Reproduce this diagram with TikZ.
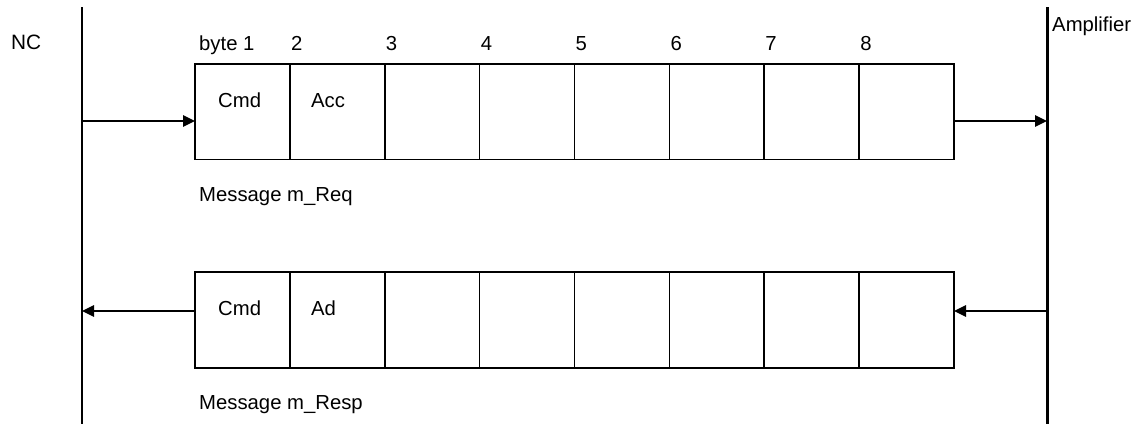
\documentclass[tikz,border=0pt]{standalone}
\usepackage{fontspec}
\setmainfont{Liberation Sans}
\usetikzlibrary{arrows.meta}
\begin{document}
\begin{tikzpicture}[x=1pt,y=-1pt,
  cell/.style={draw, line width=1.6pt, minimum width=94.875pt, minimum height=95.5pt, inner sep=0pt, outer sep=0pt},
  lbl/.style={anchor=base west, inner sep=0pt, font=\fontsize{20.3}{24}\selectfont},
  msg/.style={line width=1.3pt, -{Triangle[length=12pt,width=11.5pt]}},
  life/.style={line width=1.6pt},
  amp/.style={line width=3pt}]
\useasboundingbox (0,0) rectangle (1137,424);
% lifelines
\coordinate (nctop) at (82,7);
\coordinate (ncbot) at (82,424);
\coordinate (amptop) at (1047,7);
\coordinate (ampbot) at (1047,424);
\draw[life] (nctop) -- (ncbot);
\draw[amp] (amptop) -- (ampbot);
\node[lbl, font=\fontsize{20.8}{25}\selectfont] (nc) at (11,49.5) {NC};
\node[lbl] (ampl) at (1052,31) {Amplifier};
% request and response cells
\foreach \i in {1,...,8}{
  \node[cell] (r\i) at ({195+47.4375+(\i-1)*94.875},111.75) {};
  \node[cell] (s\i) at ({195+47.4375+(\i-1)*94.875},320) {};
}
\node[lbl] (b1) at ([xshift=4pt,yshift=13.5pt]r1.north west) {byte 1};
\foreach \i in {2,...,8}{
  \node[lbl] (b\i) at ([xshift=1pt,yshift=13.5pt]r\i.north west) {\i};
}
\node[lbl] (rc1) at ([xshift=23pt,yshift=-43pt]r1.north west) {Cmd};
\node[lbl] (rc2) at ([xshift=21pt,yshift=-43pt]r2.north west) {Acc};
\node[lbl] (sc1) at ([xshift=23pt,yshift=-43pt]s1.north west) {Cmd};
\node[lbl] (sc2) at ([xshift=21pt,yshift=-43pt]s2.north west) {Ad};
\node[lbl] (mreq) at ([xshift=4pt,yshift=-41.5pt]r1.south west) {Message m\_Req};
\node[lbl] (mresp) at ([xshift=4pt,yshift=-41.5pt]s1.south west) {Message m\_Resp};
% connectors
\coordinate (ncA) at (82,121);
\coordinate (ampA) at (1047,121);
\coordinate (ncB) at (82,311);
\coordinate (ampB) at (1047,311);
\draw[msg] (ncA) -- (ncA -| r1.west);
\draw[msg] (r8.east |- ampA) -- (ampA);
\draw[msg] (s1.west |- ncB) -- (ncB);
\draw[msg] (ampB) -- (ampB -| s8.east);
\end{tikzpicture}
\end{document}
